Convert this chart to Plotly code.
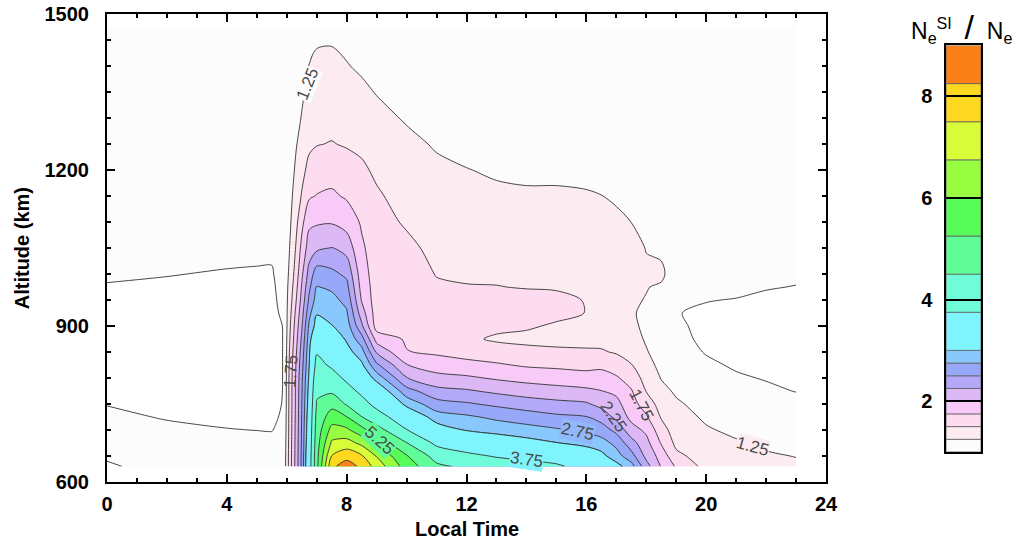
import numpy as np
import plotly.graph_objects as go

# ---------------- data ----------------
local_time = [0, 2, 4, 5, 5.5, 5.9, 6.1, 6.3, 6.5, 6.75, 7, 7.5, 8, 8.5, 9, 10, 11, 12,
              13, 14, 15, 16, 16.5, 17, 17.5, 18, 18.5, 19, 20, 21, 22, 23]
altitude = [630, 650, 675, 700, 725, 750, 775, 800, 825, 850, 875, 900, 925, 950, 975,
            1000, 1050, 1100, 1150, 1200, 1250, 1300, 1350, 1400, 1475]

# ratio profiles (one list per local time, bottom -> top)
lt_00_0 = [0.98, 1.02, 1.04, 1.05, 1.03, 0.995, 0.97, 0.96, 0.95, 0.95, 0.95, 0.95, 0.96, 0.97, 0.99, 1.02, 1.06, 1.08, 1.09, 1.1, 1.1, 1.1, 1.1, 1.1, 1.1]
lt_02_0 = [1.06, 1.07, 1.06, 1.03, 0.99, 0.96, 0.95, 0.94, 0.94, 0.94, 0.94, 0.94, 0.95, 0.96, 0.98, 1.005, 1.05, 1.08, 1.1, 1.1, 1.1, 1.1, 1.1, 1.1, 1.1]
lt_04_0 = [1.08, 1.08, 1.06, 1.005, 0.97, 0.95, 0.93, 0.93, 0.93, 0.93, 0.93, 0.93, 0.94, 0.95, 0.97, 0.99, 1.04, 1.08, 1.1, 1.1, 1.1, 1.1, 1.1, 1.1, 1.1]
lt_05_0 = [1.08, 1.08, 1.05, 0.998, 0.97, 0.95, 0.94, 0.94, 0.94, 0.94, 0.94, 0.94, 0.945, 0.95, 0.965, 0.985, 1.035, 1.08, 1.1, 1.1, 1.1, 1.1, 1.1, 1.1, 1.1]
lt_05_5 = [1.08, 1.07, 1.04, 0.995, 0.975, 0.965, 0.96, 0.955, 0.955, 0.955, 0.955, 0.955, 0.96, 0.965, 0.97, 0.985, 1.03, 1.07, 1.1, 1.1, 1.1, 1.1, 1.1, 1.1, 1.1]
lt_05_9 = [1.1, 1.08, 1.06, 1.04, 1.02, 1.008, 1.005, 1.005, 1.005, 1.005, 1.005, 1.006, 1.03, 1.05, 1.07, 1.08, 1.1, 1.1, 1.1, 1.1, 1.1, 1.1, 1.1, 1.1, 1.1]
lt_06_1 = [1.62, 1.62, 1.61, 1.6, 1.6, 1.59, 1.59, 1.58, 1.56, 1.53, 1.49, 1.46, 1.42, 1.38, 1.34, 1.3, 1.255, 1.21, 1.18, 1.15, 1.13, 1.12, 1.11, 1.11, 1.11]
lt_06_3 = [2.08, 2.07, 2.06, 2.05, 2.04, 2.03, 2.03, 2.02, 1.99, 1.95, 1.9, 1.85, 1.79, 1.72, 1.66, 1.6, 1.51, 1.42, 1.34, 1.28, 1.23, 1.19, 1.16, 1.14, 1.12]
lt_06_5 = [2.55, 2.55, 2.53, 2.52, 2.51, 2.49, 2.47, 2.45, 2.4, 2.35, 2.29, 2.22, 2.15, 2.08, 2.02, 1.95, 1.82, 1.68, 1.52, 1.42, 1.33, 1.26, 1.22, 1.18, 1.14]
lt_06_75 = [3.4, 3.35, 3.3, 3.25, 3.2, 3.15, 3.1, 3.05, 2.99, 2.95, 2.88, 2.8, 2.68, 2.55, 2.45, 2.35, 2.12, 1.95, 1.72, 1.58, 1.45, 1.36, 1.3, 1.255, 1.17]
lt_07_0 = [5.0, 5.0, 4.9, 4.8, 4.7, 4.55, 4.4, 4.2, 3.95, 3.7, 3.4, 3.1, 2.98, 2.85, 2.76, 2.63, 2.2, 1.97, 1.76, 1.62, 1.49, 1.42, 1.36, 1.29, 1.2]
lt_07_5 = [8.1, 7.52, 6.87, 6.25, 5.62, 5.0, 4.38, 4.02, 3.65, 3.42, 3.22, 3.01, 2.92, 2.82, 2.71, 2.56, 2.26, 1.98, 1.79, 1.65, 1.51, 1.43, 1.36, 1.3, 1.2]
lt_08_0 = [8.6, 8.0, 7.05, 6.15, 5.27, 4.42, 4.0, 3.62, 3.35, 3.1, 2.96, 2.87, 2.78, 2.68, 2.57, 2.45, 2.15, 1.9, 1.72, 1.6, 1.48, 1.41, 1.34, 1.26, 1.18]
lt_08_5 = [8.1, 7.58, 6.55, 5.5, 4.52, 4.0, 3.6, 3.25, 3.05, 2.85, 2.6, 2.3, 2.12, 1.98, 1.91, 1.86, 1.79, 1.72, 1.62, 1.54, 1.45, 1.36, 1.29, 1.22, 1.17]
lt_09_0 = [7.2, 6.7, 5.75, 4.78, 4.05, 3.55, 3.25, 2.9, 2.55, 2.22, 1.9, 1.64, 1.62, 1.62, 1.63, 1.63, 1.62, 1.59, 1.53, 1.46, 1.38, 1.31, 1.24, 1.2, 1.16]
lt_10_0 = [5.65, 5.3, 4.52, 3.77, 3.3, 2.92, 2.6, 2.26, 2.01, 1.76, 1.72, 1.7, 1.68, 1.66, 1.64, 1.62, 1.56, 1.47, 1.41, 1.36, 1.3, 1.23, 1.19, 1.16, 1.13]
lt_11_0 = [4.65, 4.2, 3.6, 3.15, 2.87, 2.6, 2.33, 2.08, 1.88, 1.71, 1.66, 1.63, 1.6, 1.57, 1.53, 1.49, 1.43, 1.38, 1.34, 1.29, 1.23, 1.19, 1.16, 1.14, 1.12]
lt_12_0 = [4.35, 3.9, 3.35, 2.98, 2.79, 2.53, 2.28, 2.04, 1.82, 1.66, 1.54, 1.56, 1.58, 1.56, 1.51, 1.47, 1.41, 1.36, 1.31, 1.255, 1.2, 1.17, 1.15, 1.13, 1.12]
lt_13_0 = [4.1, 3.7, 3.22, 2.9, 2.7, 2.45, 2.2, 1.97, 1.78, 1.6, 1.47, 1.55, 1.57, 1.55, 1.505, 1.47, 1.4, 1.34, 1.28, 1.23, 1.19, 1.16, 1.14, 1.13, 1.12]
lt_14_0 = [3.95, 3.6, 3.1, 2.85, 2.62, 2.38, 2.13, 1.92, 1.72, 1.57, 1.44, 1.53, 1.58, 1.56, 1.49, 1.45, 1.38, 1.32, 1.27, 1.22, 1.18, 1.15, 1.14, 1.13, 1.12]
lt_15_0 = [3.85, 3.45, 3.01, 2.78, 2.55, 2.32, 2.09, 1.88, 1.7, 1.55, 1.42, 1.47, 1.56, 1.55, 1.48, 1.44, 1.37, 1.31, 1.27, 1.22, 1.18, 1.15, 1.14, 1.13, 1.12]
lt_16_0 = [3.5, 3.25, 2.9, 2.7, 2.51, 2.28, 2.05, 1.84, 1.68, 1.53, 1.43, 1.46, 1.495, 1.49, 1.46, 1.43, 1.37, 1.31, 1.26, 1.22, 1.18, 1.15, 1.14, 1.13, 1.12]
lt_16_5 = [3.3, 3.08, 2.85, 2.62, 2.4, 2.17, 2.005, 1.84, 1.7, 1.52, 1.44, 1.43, 1.42, 1.41, 1.4, 1.39, 1.36, 1.3, 1.252, 1.21, 1.17, 1.15, 1.14, 1.13, 1.12]
lt_17_0 = [3.1, 2.85, 2.68, 2.43, 2.19, 2.07, 1.95, 1.78, 1.62, 1.48, 1.42, 1.4, 1.39, 1.38, 1.37, 1.36, 1.33, 1.28, 1.23, 1.19, 1.16, 1.14, 1.13, 1.12, 1.11]
lt_17_5 = [2.85, 2.6, 2.35, 2.1, 1.93, 1.85, 1.77, 1.64, 1.51, 1.42, 1.36, 1.3, 1.27, 1.28, 1.3, 1.31, 1.3, 1.249, 1.2, 1.17, 1.15, 1.13, 1.12, 1.11, 1.1]
lt_18_0 = [2.35, 2.18, 2.08, 1.95, 1.78, 1.63, 1.49, 1.41, 1.34, 1.27, 1.22, 1.2, 1.21, 1.24, 1.26, 1.27, 1.245, 1.2, 1.16, 1.14, 1.12, 1.11, 1.1, 1.1, 1.1]
lt_18_5 = [1.98, 1.9, 1.73, 1.6, 1.48, 1.4, 1.31, 1.24, 1.18, 1.13, 1.1, 1.08, 1.1, 1.15, 1.22, 1.3, 1.2, 1.16, 1.14, 1.12, 1.11, 1.1, 1.1, 1.1, 1.1]
lt_19_0 = [1.72, 1.56, 1.44, 1.38, 1.33, 1.28, 1.22, 1.16, 1.11, 1.07, 1.04, 1.02, 1.005, 1.02, 1.05, 1.1, 1.12, 1.12, 1.11, 1.11, 1.11, 1.1, 1.1, 1.1, 1.1]
lt_20_0 = [1.42, 1.38, 1.33, 1.27, 1.22, 1.17, 1.12, 1.07, 1.03, 0.99, 0.97, 0.97, 0.98, 1.005, 1.03, 1.06, 1.1, 1.11, 1.11, 1.11, 1.11, 1.1, 1.1, 1.1, 1.1]
lt_21_0 = [1.36, 1.32, 1.27, 1.21, 1.15, 1.1, 1.06, 1.02, 0.98, 0.96, 0.95, 0.95, 0.96, 0.995, 1.03, 1.06, 1.09, 1.1, 1.1, 1.1, 1.1, 1.1, 1.1, 1.1, 1.1]
lt_22_0 = [1.32, 1.27, 1.22, 1.17, 1.11, 1.06, 1.03, 0.99, 0.96, 0.95, 0.94, 0.94, 0.94, 0.97, 1.01, 1.04, 1.08, 1.1, 1.1, 1.1, 1.1, 1.1, 1.1, 1.1, 1.1]
lt_23_0 = [1.28, 1.245, 1.2, 1.15, 1.1, 1.05, 0.995, 0.97, 0.95, 0.94, 0.94, 0.94, 0.94, 0.96, 0.995, 1.03, 1.07, 1.1, 1.1, 1.1, 1.1, 1.1, 1.1, 1.1, 1.1]

profiles = [lt_00_0, lt_02_0, lt_04_0, lt_05_0, lt_05_5, lt_05_9, lt_06_1, lt_06_3, lt_06_5,
            lt_06_75, lt_07_0, lt_07_5, lt_08_0, lt_08_5, lt_09_0, lt_10_0, lt_11_0, lt_12_0,
            lt_13_0, lt_14_0, lt_15_0, lt_16_0, lt_16_5, lt_17_0, lt_17_5, lt_18_0, lt_18_5,
            lt_19_0, lt_20_0, lt_21_0, lt_22_0, lt_23_0]

# contour levels: fine steps below 3, coarse steps above
levels_fine = [1.0, 1.25, 1.5, 1.75, 2.0, 2.25, 2.5, 2.75, 3.0]
levels_coarse = [3.0, 3.75, 4.5, 5.25, 6.0, 6.75, 7.5, 8.25, 9.0]

colors_fine = ['#ffffff', '#fcfcfc', '#fcebf0', '#fcdcee', '#f8caf8', '#dcb8f4',
               '#b4a8f8', '#98a8f8', '#88c8fc', '#80f4fc']
colors_coarse = ['rgba(255,255,255,0)', '#80f4fc', '#70fcd8', '#60fc98', '#58fc58',
                 '#98fc40', '#d8fc38', '#fcd820', '#fc8018']

# colour-bar bands
bar_levels = levels_fine + levels_coarse[1:]
bar_colors = colors_fine[1:-1] + colors_coarse[1:]
bar_ticks = [2, 4, 6, 8]

# contour labels (text, local time, altitude, angle, gap colour)
label_text = ['1.25', '1.75', '5.25', '3.75', '2.75', '2.25', '1.75', '1.25']
label_lt = [6.68, 6.15, 9.1, 14.0, 15.7, 16.9, 17.85, 21.55]
label_alt = [1365, 812, 680, 643, 697, 726, 748, 668]
label_angle = [-68, -86, 42, 8, 12, 55, 62, 15]
label_bg = ['#fcfcfc', None, '#60fc98', '#80f4fc', '#90b8fa', None, None, '#fcebf0']

# ---------------- figure ----------------
z = np.array(profiles).T.tolist()

def step_scale(cols):
    n = len(cols) - 1
    return [[i / n, c] for i, c in enumerate(cols)]

line_style = dict(color='#333333', width=0.9, smoothing=0.85)
FONT = 'Liberation Sans, Arial, sans-serif'

fig = go.Figure()
fig.add_trace(go.Contour(
    x=local_time, y=altitude, z=z,
    autocontour=False,
    contours=dict(start=levels_fine[0], end=levels_fine[-1],
                  size=levels_fine[1] - levels_fine[0], coloring='fill'),
    colorscale=step_scale(colors_fine), showscale=False,
    line=line_style, hoverinfo='skip'))
fig.add_trace(go.Contour(
    x=local_time, y=altitude, z=z,
    autocontour=False,
    contours=dict(start=levels_coarse[0], end=levels_coarse[-2],
                  size=levels_coarse[1] - levels_coarse[0], coloring='fill'),
    colorscale=step_scale(colors_coarse), showscale=False,
    line=line_style, hoverinfo='skip'))

# colour bar drawn as stacked bands
fig.add_trace(go.Bar(
    x=[0] * (len(bar_levels) - 1),
    y=list(np.diff(bar_levels)), base=bar_levels[:-1],
    marker=dict(color=bar_colors, line=dict(color='#606060', width=0.8)),
    width=1, xaxis='x2', yaxis='y2', showlegend=False, hoverinfo='skip'))

tick_font = dict(family=FONT, size=20, color='black', weight='bold')

for t, lx, ly, a, bg in zip(label_text, label_lt, label_alt, label_angle, label_bg):
    fig.add_annotation(x=lx, y=ly, xref='x', yref='y', text=t, textangle=a,
                       showarrow=False, bgcolor=bg, borderpad=0,
                       font=dict(family=FONT, size=17, color='#4a4a4a'))

fig.add_annotation(x=12, xref='x', y=-0.1, yref='paper', text='Local Time',
                   showarrow=False, font=tick_font, yanchor='middle')
fig.add_annotation(x=-0.097, xref='paper', y=1050, yref='y', text='Altitude (km)',
                   textangle=-90, showarrow=False, font=tick_font, xanchor='center')
fig.add_annotation(x=0.45, xref='x2 domain', y=0.972, yref='paper',
                   text=("N<sub>e</sub><sup>SI</sup>&nbsp;&nbsp;"
                         "<span style='font-size:34px'>/</span>&nbsp;&nbsp;N<sub>e</sub>"),
                   showarrow=False, yanchor='middle',
                   font=dict(family=FONT, size=23, color='black'))

axis_common = dict(showline=True, linecolor='black', linewidth=2, mirror='allticks',
                   ticks='inside', tickcolor='black', tickwidth=2, ticklen=8,
                   showgrid=False, zeroline=False, tickfont=tick_font, automargin=False)

fig.update_layout(
    width=1020, height=543,
    margin=dict(l=107, r=39, t=14, b=61, autoexpand=False),
    paper_bgcolor='white', plot_bgcolor='white',
    barmode='overlay', showlegend=False,
    xaxis=dict(domain=[0, 0.8227], range=[0, 24], tickmode='linear', tick0=0, dtick=4,
               minor=dict(dtick=1, ticks='inside', ticklen=4, tickwidth=1.5, tickcolor='black'),
               ticklabelstandoff=3, **axis_common),
    yaxis=dict(domain=[0, 1], range=[600, 1500], tickmode='linear', tick0=0, dtick=300,
               minor=dict(dtick=50, ticks='inside', ticklen=4, tickwidth=1.5, tickcolor='black'),
               ticklabelstandoff=12, **axis_common),
    xaxis2=dict(domain=[0.96, 1.0], range=[-0.5, 0.5], anchor='y2', showline=True,
                linecolor='black', linewidth=1.5, mirror=True, showticklabels=False,
                ticks='', showgrid=False, zeroline=False, fixedrange=True, automargin=False),
    yaxis2=dict(domain=[0.0641, 0.9327], range=[1, 9], anchor='x2', tickmode='array',
                tickvals=bar_ticks, ticks='inside', ticklen=35, tickwidth=1.5,
                tickcolor='black', showline=True, linecolor='black', linewidth=1.5,
                mirror=True, showgrid=False, zeroline=False, layer='above traces',
                tickfont=dict(family=FONT, size=20, color='black', weight='bold'),
                ticklabelstandoff=8, automargin=False),
)

fig.write_html('out.html')
